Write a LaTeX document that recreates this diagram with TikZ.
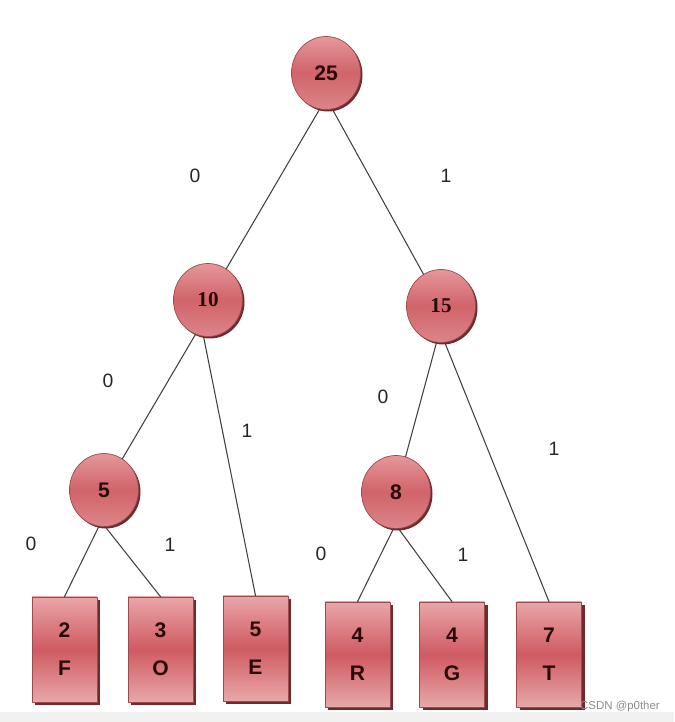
\documentclass[tikz,border=0pt]{standalone}
\usepackage{fontspec}
\setmainfont{Liberation Sans}
\newfontfamily\serifnum{Liberation Serif}
\usetikzlibrary{shapes.geometric,shadows}

\definecolor{boxtop}{HTML}{E9A6A8}
\definecolor{boxmid}{HTML}{CF5A62}
\definecolor{boxbot}{HTML}{E7A8A8}
\definecolor{balltop}{HTML}{E5979A}
\definecolor{ballmid}{HTML}{D0646A}
\definecolor{ballbot}{HTML}{DC8589}
\definecolor{rimred}{HTML}{9B4A4E}
\definecolor{shadowred}{HTML}{6E2A2C}
\definecolor{inkdark}{HTML}{2A0808}
\definecolor{bandgray}{HTML}{F1F1EF}

\begin{document}
\begin{tikzpicture}[line cap=round, line join=round,
  treenode/.style={ellipse, draw=rimred, thin, minimum width=1.38cm, minimum height=1.46cm,
    inner sep=0pt, top color=balltop, bottom color=ballbot, middle color=ballmid,
    drop shadow={shadow xshift=0.04cm, shadow yshift=-0.04cm, fill=shadowred, opacity=1},
    text=inkdark, font=\fontsize{12}{14}\selectfont\bfseries},
  leafbox/.style={rectangle, draw=rimred, thin, minimum width=1.3cm, minimum height=2.1cm,
    inner sep=0pt, top color=boxtop, bottom color=boxbot, middle color=boxmid,
    drop shadow={shadow xshift=0.06cm, shadow yshift=-0.06cm, fill=shadowred, opacity=1},
    align=center, text=inkdark, font=\fontsize{12}{21.6}\selectfont\bfseries},
  bit/.style={font=\fontsize{11}{13}\selectfont, text=black!85},
  branch/.style={draw=black!75, line width=0.6pt}]

  % Canvas
  \useasboundingbox (0,0) rectangle (13.48,14.44);
  \fill[bandgray] (0,0) rectangle (13.48,0.2);

  % Inner nodes
  \node[treenode] (r25) at (6.52, 12.98) {25};
  \node[treenode] (n10) at (4.16, 8.44) {\serifnum\bfseries 10};
  \node[treenode] (n15) at (8.82, 8.32) {\serifnum\bfseries 15};
  \node[treenode] (n5) at (2.08, 4.64) {5};
  \node[treenode] (n8) at (7.92, 4.60) {8};

  % Leaves
  \node[leafbox] (F) at (1.29, 1.45) {2\\F};
  \node[leafbox] (O) at (3.21, 1.45) {3\\O};
  \node[leafbox] (E) at (5.11, 1.47) {5\\E};
  \node[leafbox] (R) at (7.15, 1.35) {4\\R};
  \node[leafbox] (G) at (9.04, 1.35) {4\\G};
  \node[leafbox] (T) at (10.98, 1.35) {7\\T};

  % Branches
  \draw[branch] (r25.-100) -- (n10);
  \draw[branch] (r25.-80) -- (n15);
  \draw[branch] (n10.-110) -- (n5);
  \draw[branch] (n10.-97) -- (E.north);
  \draw[branch] (n15.-97) -- (n8);
  \draw[branch] (n15.-84) -- (T.north);
  \draw[branch] (n5.-98) -- (F.north);
  \draw[branch] (n5.-88) -- (O.north);
  \draw[branch] (n8.-94) -- (R.north);
  \draw[branch] (n8.-86) -- (G.north);

  % Bit labels
  \node[bit] (b1) at (3.90, 10.92) {0};
  \node[bit] (b2) at (8.92, 10.92) {1};
  \node[bit] (b3) at (2.16, 6.82) {0};
  \node[bit] (b4) at (4.94, 5.82) {1};
  \node[bit] (b5) at (7.66, 6.50) {0};
  \node[bit] (b6) at (11.08, 5.46) {1};
  \node[bit] (b7) at (0.62, 3.56) {0};
  \node[bit] (b8) at (3.40, 3.54) {1};
  \node[bit] (b9) at (6.42, 3.36) {0};
  \node[bit] (b10) at (9.26, 3.34) {1};

  % Watermark
  \node[text=black!45, font=\fontsize{6.5}{8}\selectfont] (mark) at (12.40, 0.30) {CSDN @p0ther};
\end{tikzpicture}
\end{document}
